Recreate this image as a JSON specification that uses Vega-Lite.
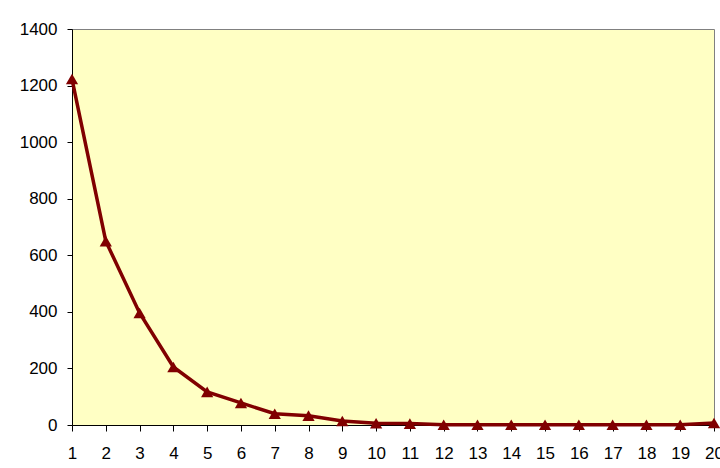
{
  "$schema": "https://vega.github.io/schema/vega-lite/v6.json",
  "width": 642,
  "height": 396,
  "autosize": {"type": "none"},
  "padding": {"left": 72, "top": 29, "right": 6, "bottom": 43},
  "background": "white",
  "config": {
    "view": {"fill": "#FFFFC4", "stroke": "#808080", "strokeWidth": 1},
    "axis": {
      "labelFont": "Liberation Sans",
      "labelFontSize": 17,
      "labelColor": "black",
      "domainColor": "black",
      "tickColor": "black",
      "grid": false,
      "title": null
    }
  },
  "data": {
    "values": [
      {"x": 1, "y": 1223}, {"x": 2, "y": 650}, {"x": 3, "y": 396}, {"x": 4, "y": 205},
      {"x": 5, "y": 117}, {"x": 6, "y": 78}, {"x": 7, "y": 40}, {"x": 8, "y": 33},
      {"x": 9, "y": 14}, {"x": 10, "y": 6}, {"x": 11, "y": 5}, {"x": 12, "y": 1},
      {"x": 13, "y": 1}, {"x": 14, "y": 1}, {"x": 15, "y": 1}, {"x": 16, "y": 1},
      {"x": 17, "y": 1}, {"x": 18, "y": 1}, {"x": 19, "y": 1}, {"x": 20, "y": 7}
    ]
  },
  "encoding": {
    "x": {
      "field": "x", "type": "quantitative",
      "scale": {"domain": [1, 20], "nice": false, "zero": false},
      "axis": {"values": [1,2,3,4,5,6,7,8,9,10,11,12,13,14,15,16,17,18,19,20], "format": "d", "tickSize": 6, "labelPadding": 14, "labelOverlap": false, "labelFlush": false}
    },
    "y": {
      "field": "y", "type": "quantitative",
      "scale": {"domain": [0, 1400], "nice": false},
      "axis": {"values": [0,200,400,600,800,1000,1200,1400], "format": "d", "tickSize": 5, "labelPadding": 10, "labelFlush": false}
    }
  },
  "layer": [
    {"mark": {"type": "line", "color": "#800000", "strokeWidth": 3.5}},
    {"mark": {"type": "point", "shape": "triangle-up", "filled": true, "color": "#800000", "opacity": 1, "size": 150}}
  ]
}
